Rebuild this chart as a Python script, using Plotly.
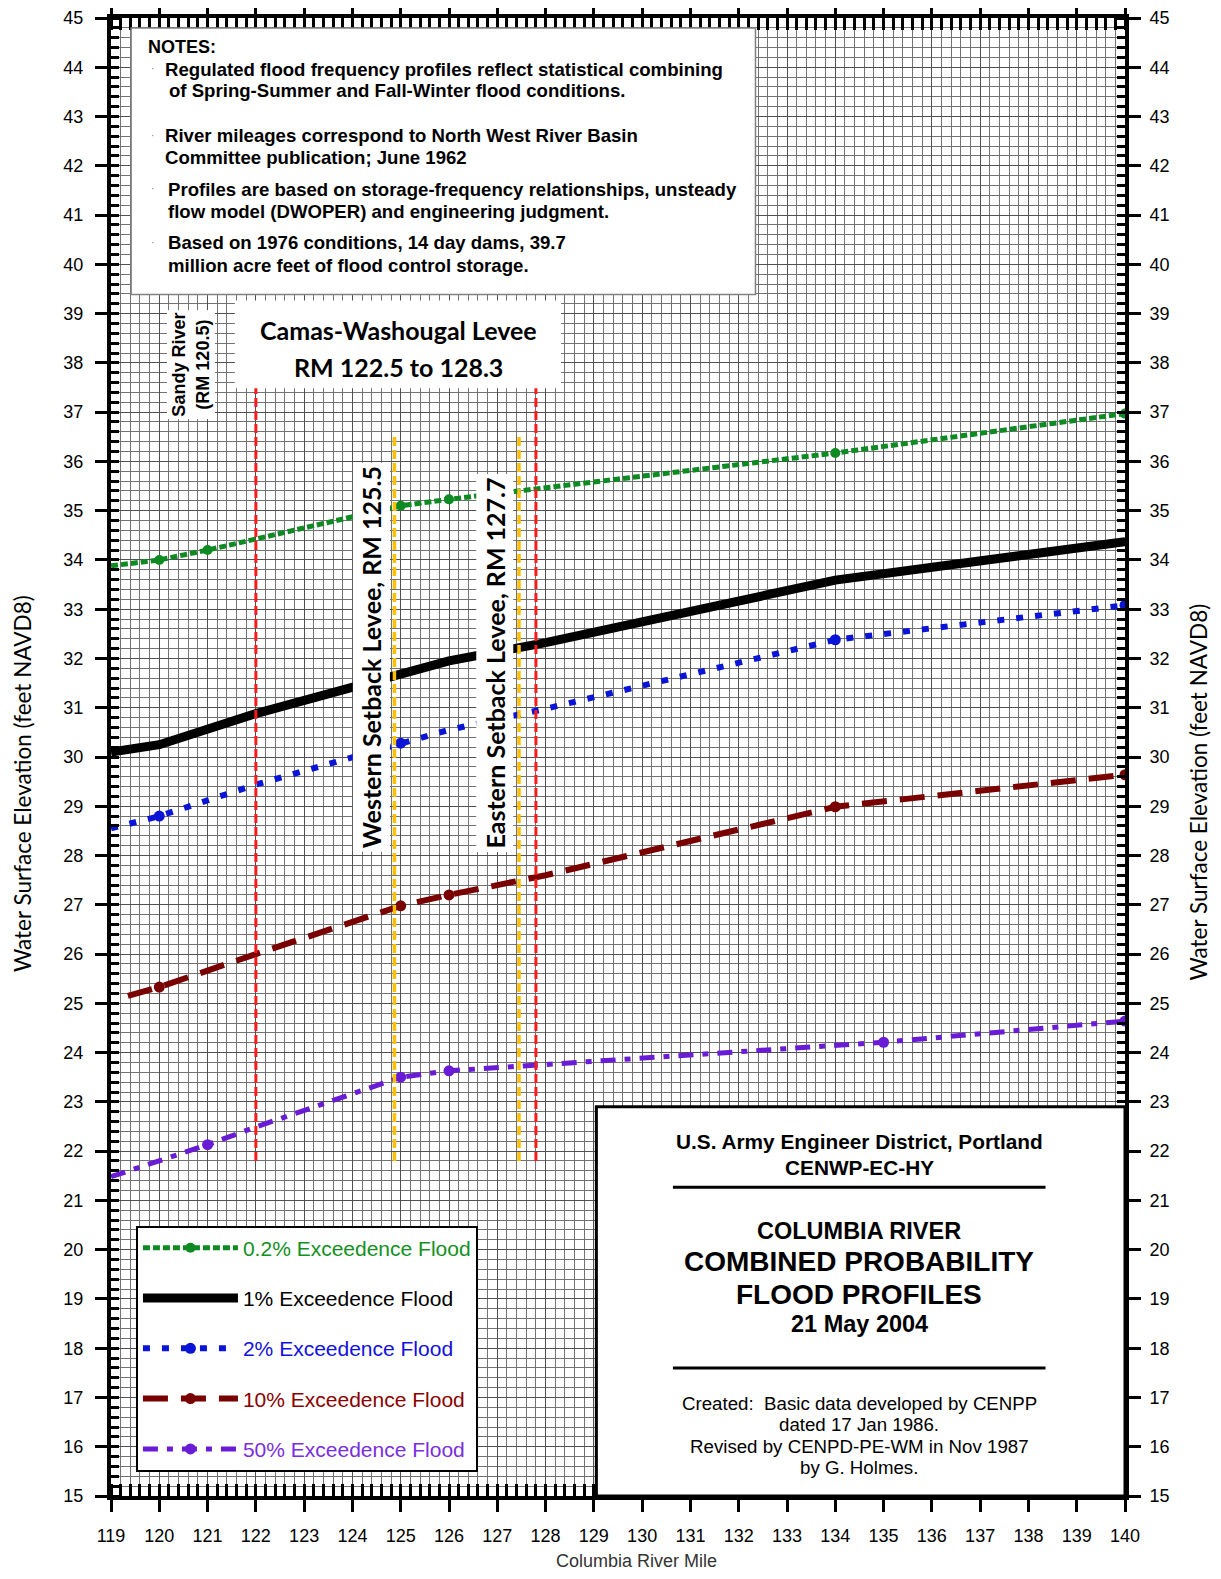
import plotly.graph_objects as go

# ---------------- data ----------------
miles_02 = [119, 120, 121, 125, 126, 134, 140]
elev_02 = [33.88, 34.0, 34.2, 35.1, 35.23, 36.17, 36.97]
marked_02 = [120, 121, 125, 126, 134, 140]

miles_1 = [119, 120, 122, 125, 126, 128, 134, 140]
elev_1 = [30.1, 30.25, 30.88, 31.69, 31.95, 32.32, 33.59, 34.37]
marked_1 = [120, 125, 126, 134, 140]

miles_2 = [119, 120, 122, 125, 126, 128, 134, 140]
elev_2 = [28.55, 28.8, 29.44, 30.28, 30.55, 30.98, 32.38, 33.08]
marked_2 = [120, 125, 134, 140]

miles_10 = [119.35, 120, 122, 125, 126, 128, 134, 140]
elev_10 = [25.15, 25.33, 26.0, 26.98, 27.2, 27.6, 28.99, 29.64]
marked_10 = [120, 125, 126, 134, 140]

miles_50 = [119, 121, 122, 125, 126, 135, 140]
elev_50 = [21.48, 22.13, 22.49, 23.5, 23.63, 24.21, 24.64]
marked_50 = [121, 125, 126, 135, 140]

levee_end_rm = [122.0, 127.8]       # red dashed lines
setback_rm = [124.87, 127.45]       # orange dashed lines

x_ticks = list(range(119, 141))
y_ticks = list(range(15, 46))

series_names = ["0.2% Exceedence Flood", "1% Exceedence Flood", "2% Exceedence Flood",
                "10% Exceedence Flood", "50% Exceedence Flood"]

# ---------------- styles ----------------
styles = [
    dict(color="#0e8a22", width=5, dash="7px,3px", ms=10, legend_color="#12911f"),
    dict(color="#000000", width=9, dash="solid", ms=8, legend_color="#000000"),
    dict(color="#0a14d6", width=6, dash="7px,12px", ms=11, legend_color="#1010e0"),
    dict(color="#7a0000", width=6, dash="25px,13px", ms=11, legend_color="#8b0000"),
    dict(color="#6a1bd6", width=5, dash="15px,9px,6px,9px", ms=11, legend_color="#7a2ee0"),
]
data = [(miles_02, elev_02, marked_02), (miles_1, elev_1, marked_1), (miles_2, elev_2, marked_2),
        (miles_10, elev_10, marked_10), (miles_50, elev_50, marked_50)]


def X(px):
    return 119 + (px - 110) / 47.95


def Y(py):
    return 45 - (py - 18) / 48.83


fig = go.Figure()

for (xs, ys, marked), st, name in zip(data, styles, series_names):
    fig.add_trace(go.Scatter(x=xs, y=ys, mode="lines",
                             line=dict(color=st["color"], width=st["width"], dash=st["dash"]),
                             showlegend=False, hoverinfo="skip"))
    mx = [x for x in xs if x in marked]
    my = [y for x, y in zip(xs, ys) if x in marked]
    fig.add_trace(go.Scatter(x=mx, y=my, mode="markers",
                             marker=dict(color=st["color"], size=st["ms"]),
                             showlegend=False, hoverinfo="skip"))

for i, ((xs, ys, marked), st, name) in enumerate(zip(data, styles, series_names)):
    fig.add_trace(go.Scatter(x=[None], y=[None], mode="lines+markers",
                             name='<span style="color:%s">%s</span>' % (st["legend_color"], name),
                             legendgroup="g%d" % i,
                             line=dict(color=st["color"], width=st["width"], dash=st["dash"]),
                             marker=dict(color=st["color"], size=st["ms"])))

# vertical levee lines
for rm in levee_end_rm:
    fig.add_trace(go.Scatter(x=[rm, rm], y=[21.8, 37.5], mode="lines",
                             line=dict(color="#ff1a1a", width=3, dash="9px,4px"),
                             showlegend=False, hoverinfo="skip"))
for rm in setback_rm:
    fig.add_trace(go.Scatter(x=[rm, rm], y=[21.8, 36.55], mode="lines",
                             line=dict(color="#ffc000", width=3.5, dash="9px,4px"),
                             showlegend=False, hoverinfo="skip"))

# invisible trace on right axis
fig.add_trace(go.Scatter(x=miles_02, y=elev_02, yaxis="y2", mode="markers",
                         marker=dict(opacity=0), showlegend=False, hoverinfo="skip"))

shapes = []
# notes box
shapes.append(dict(type="rect", xref="x", yref="y", x0=X(130), x1=X(750), y0=Y(292), y1=Y(28),
                   fillcolor="white", line=dict(color="#808080", width=1.5), layer="above"))
# Camas box
shapes.append(dict(type="rect", xref="x", yref="y", x0=X(233), x1=X(557), y0=Y(385), y1=Y(298),
                   fillcolor="white", line=dict(width=0), layer="above"))
# title box
shapes.append(dict(type="rect", xref="x", yref="y", x0=X(592), x1=140, y0=15, y1=Y(1097),
                   fillcolor="white", line=dict(color="black", width=3), layer="above"))
for py in (1177, 1356):
    shapes.append(dict(type="line", xref="x", yref="y", x0=X(668), x1=X(1038), y0=Y(py), y1=Y(py),
                       line=dict(color="black", width=3), layer="above"))

ann = []
arial = "Liberation Sans, Arial, sans-serif"

# notes
ann.append(dict(x=X(145), y=Y(47), text="NOTES:", xanchor="left", yanchor="middle",
                font=dict(family=arial, size=18, color="black", weight="bold")))
note_lines = [
    (162, 69, "Regulated flood frequency profiles reflect statistical combining"),
    (166, 90, "of Spring-Summer and Fall-Winter flood conditions."),
    (162, 134, "River mileages correspond to North West River Basin"),
    (162, 156, "Committee publication; June 1962"),
    (165, 188, "Profiles are based on storage-frequency relationships, unsteady"),
    (165, 210, "flow model (DWOPER) and engineering judgment."),
    (165, 241, "Based on 1976 conditions, 14 day dams, 39.7"),
    (165, 263, "million acre feet of flood control storage."),
]
for px, py, t in note_lines:
    ann.append(dict(x=X(px), y=Y(py), text=t, xanchor="left", yanchor="middle",
                    font=dict(family=arial, size=18.6, color="black", weight="bold")))
for py in (68, 134, 187, 241):
    ann.append(dict(x=X(151), y=Y(py), text="·", xanchor="center", yanchor="middle",
                    font=dict(family=arial, size=10, color="#777")))

# Camas label
for py, t in ((327, "Camas-Washougal Levee"), (364, "RM 122.5 to 128.3")):
    ann.append(dict(x=X(395), y=Y(py), text=t, xanchor="center", yanchor="middle",
                    font=dict(family="Lato", size=25, color="black", weight="bold")))
# setback labels
ann.append(dict(x=X(369), y=Y(845), text="Western Setback Levee, RM 125.5", textangle=-90,
                xanchor="center", yanchor="bottom", bgcolor="white", borderpad=3,
                font=dict(family="Lato", size=25, color="black", weight="bold")))
ann.append(dict(x=X(491), y=Y(845), text="Eastern Setback Levee, RM 127.7", textangle=-90,
                xanchor="center", yanchor="bottom", bgcolor="white", borderpad=3,
                font=dict(family="Lato", size=25, color="black", weight="bold")))
# Sandy River
ann.append(dict(x=X(189), y=Y(362), text="Sandy River<br>(RM 120.5)", textangle=-90,
                xanchor="center", yanchor="middle", bgcolor="white", borderpad=2,
                font=dict(family=arial, size=18, color="black", weight="bold")))

# title box text
title_lines = [
    (1132, "U.S. Army Engineer District, Portland", 20.8, "bold"),
    (1157, "CENWP-EC-HY", 20.8, "bold"),
    (1220, "COLUMBIA RIVER", 23.5, "bold"),
    (1250, "COMBINED PROBABILITY", 28, "bold"),
    (1283, "FLOOD PROFILES", 28, "bold"),
    (1312, "21 May 2004", 23.5, "bold"),
    (1391, "Created:  Basic data developed by CENPP", 18.7, "normal"),
    (1412, "dated 17 Jan 1986.", 18.7, "normal"),
    (1434, "Revised by CENPD-PE-WM in Nov 1987", 18.7, "normal"),
    (1455, "by G. Holmes.", 18.7, "normal"),
]
for py, t, sz, w in title_lines:
    ann.append(dict(x=X(853), y=Y(py), text=t, xanchor="center", yanchor="middle",
                    font=dict(family=arial, size=sz, color="black", weight=w)))

# axis titles
ann.append(dict(xref="paper", yref="paper", x=-0.0874, y=0.482, text="Water Surface Elevation (feet NAVD8)",
                textangle=-90, xanchor="center", yanchor="middle",
                font=dict(family="Lato", size=22.5, color="black")))
ann.append(dict(xref="paper", yref="paper", x=1.072, y=0.476, text="Water Surface Elevation (feet NAVD8)",
                textangle=-90, xanchor="center", yanchor="middle",
                font=dict(family="Lato", size=22.5, color="black")))
ann.append(dict(xref="paper", yref="paper", x=0.5187, y=-0.044, text="Columbia River Mile",
                xanchor="center", yanchor="middle",
                font=dict(family=arial, size=18, color="#333333")))

for a in ann:
    a.setdefault("xref", "x")
    a.setdefault("yref", "y")
    a["showarrow"] = False

axis_common = dict(
    ticks="outside", ticklen=12, tickwidth=3, tickcolor="black",
    showline=True, linewidth=4, linecolor="black", mirror="allticks",
    showgrid=True, gridcolor="#505050", gridwidth=1, zeroline=False,
    tickfont=dict(family=arial, size=18, color="black"),
    ticklabelstandoff=8, automargin=False,
)

fig.update_layout(
    width=1205, height=1563,
    margin=dict(l=103, r=88, t=10, b=75, autoexpand=False),
    plot_bgcolor="white", paper_bgcolor="white",
    xaxis=dict(range=[119, 140], tickvals=x_ticks, **axis_common,
               minor=dict(dtick=0.2, tick0=119, ticks="inside", ticklen=8, tickwidth=3, tickcolor="black",
                          showgrid=True, gridcolor="#727272", gridwidth=1)),
    yaxis=dict(range=[15, 45], tickvals=y_ticks, **axis_common,
               minor=dict(dtick=0.2, tick0=15, ticks="inside", ticklen=8, tickwidth=3, tickcolor="black",
                          showgrid=True, gridcolor="#727272", gridwidth=1)),
    yaxis2=dict(range=[15, 45], tickvals=y_ticks, overlaying="y", side="right",
                ticks="outside", ticklen=12, tickwidth=3, tickcolor="black",
                showline=False, showgrid=False, zeroline=False, automargin=False,
                tickfont=dict(family=arial, size=18, color="black"), ticklabelstandoff=8),
    showlegend=True,
    legend=dict(x=0.0246, y=0.183, xanchor="left", yanchor="top", bgcolor="white",
                bordercolor="black", borderwidth=2, font=dict(family=arial, size=21),
                itemwidth=95, tracegroupgap=20, traceorder="grouped"),
    shapes=shapes,
    annotations=ann,
)

fig.write_html("out.html")
